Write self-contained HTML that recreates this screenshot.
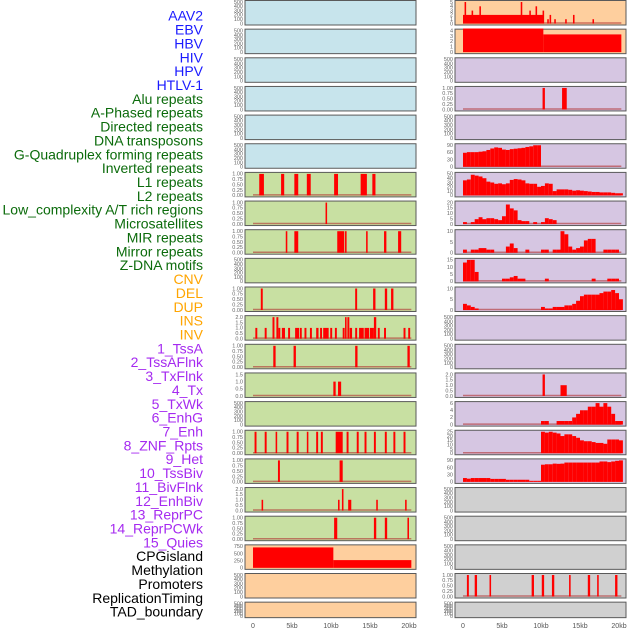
<!DOCTYPE html>
<html><head><meta charset="utf-8"><style>
html,body{margin:0;padding:0;background:#fff;}
svg{display:block;font-family:"Liberation Sans",sans-serif;}
</style></head><body>
<svg id="chart" width="630" height="630" viewBox="0 0 630 630"></svg>
<script>
const labels = ["AAV2","EBV","HBV","HIV","HPV","HTLV-1","Alu repeats","A-Phased repeats","Directed repeats","DNA transposons","G-Quadruplex forming repeats","Inverted repeats","L1 repeats","L2 repeats","Low_complexity A/T rich regions","Microsatellites","MIR repeats","Mirror repeats","Z-DNA motifs","CNV","DEL","DUP","INS","INV","1_TssA","2_TssAFlnk","3_TxFlnk","4_Tx","5_TxWk","6_EnhG","7_Enh","8_ZNF_Rpts","9_Het","10_TssBiv","11_BivFlnk","12_EnhBiv","13_ReprPC","14_ReprPCWk","15_Quies","CPGisland","Methylation","Promoters","ReplicationTiming","TAD_boundary"];
const labelGroups = [0,0,0,0,0,0,1,1,1,1,1,1,1,1,1,1,1,1,1,2,2,2,2,2,3,3,3,3,3,3,3,3,3,3,3,3,3,3,3,4,4,4,4,4];
const groupColors = ["#1a1aff","#0b6b0b","#ffa500","#a52af0","#000000"];
const xTickLabels = ["0","5kb","10kb","15kb","20kb"];
const xTickValues = [0,5,10,15,20];

const leftBg = ["b","b","b","b","b","b","g","g","g","g","g","g","g","g","g","g","g","g","g","o","o","o"];
const leftTicks = [
 ["0","100","200","300","400","500"],["0","100","200","300","400","500"],["0","100","200","300","400","500"],["0","100","200","300","400","500"],["0","100","200","300","400","500"],["0","100","200","300","400","500"],
 ["0.00","0.25","0.50","0.75","1.00"],["0.00","0.25","0.50","0.75","1.00"],["0.00","0.25","0.50","0.75","1.00"],["0","100","200","300","400","500"],["0.00","0.25","0.50","0.75","1.00"],["0.0","0.5","1.0","1.5","2.0"],["0.00","0.25","0.50","0.75","1.00"],["0.0","0.5","1.0","1.5"],["0","100","200","300","400","500"],["0.00","0.25","0.50","0.75","1.00"],["0.00","0.25","0.50","0.75","1.00"],["0.0","0.5","1.0","1.5","2.0"],["0.00","0.25","0.50","0.75","1.00"],["0","250","500","750"],["0","100","200","300","400","500"],["0","100","200","300","400","500"]];
const leftMax = [500,500,500,500,500,500,1,1,1,500,1,2,1,1.5,500,1,1,2,1,1000,500,500];
const leftSegs = [[],[],[],[],[],[],
 [[0.8,1.4,1],[3.6,4.0,1],[5.3,5.8,1],[6.9,7.4,1],[10.4,10.9,1],[13.8,14.6,1],[15.3,15.7,1]],
 [[9.3,9.5,1]],
 [[4.2,4.4,1],[5.3,5.8,1],[10.8,11.7,1],[11.8,12.0,1],[14.5,14.7,1],[16.8,17.1,1],[18.6,19.0,1]],
 [],
 [[1.0,1.25,1],[13.1,13.35,1],[15.4,15.7,1],[16.9,17.2,1],[17.7,18.0,1]],
 [[0.3,0.55,1],[1.5,1.75,1],[2.5,2.75,2],[3.0,3.25,2],[3.25,3.5,1],[3.7,4.1,1],[4.5,4.75,1],[5.4,5.9,1],[6.0,6.25,1],[6.6,6.85,1],[7.3,7.55,1],[8.1,8.4,1],[8.6,8.85,1],[9.0,9.7,1],[9.9,10.15,1],[10.5,10.75,1],[11.5,11.75,1],[11.8,12.0,2],[12.1,12.35,2],[12.4,12.7,1],[13.1,13.35,1],[13.6,14.2,1],[14.3,14.9,1],[15.0,15.5,1],[15.5,15.8,2],[16.0,16.25,1],[16.8,17.05,1],[19.3,19.55,1],[19.9,20.15,1]],
 [[2.6,2.9,1],[5.2,5.5,1],[13.1,13.4,1],[19.8,20.1,1]],
 [[10.3,10.6,1],[10.9,11.3,1]],
 [],
 [[0.2,0.45,1],[1.5,1.75,1],[2.9,3.1,1],[4.3,4.55,1],[5.6,5.85,1],[6.9,7.1,1],[8.1,8.35,1],[8.7,8.95,1],[10.6,11.5,1],[12.0,12.25,1],[13.3,13.55,1],[14.3,14.55,1],[15.5,15.75,1],[16.9,17.15,1],[18.0,18.25,1],[19.3,19.55,1]],
 [[3.2,3.45,1],[11.1,11.5,1]],
 [[1.1,1.3,1],[10.9,11.1,1],[11.4,11.6,2],[12.2,12.6,1],[15.8,16.0,1],[19.5,19.7,1]],
 [[10.4,10.8,1],[15.5,15.8,1],[16.9,17.2,1],[19.8,20.0,1]],
 [[0,10.3,950],[10.3,20.3,360]],
 [],[]];
const leftBase = [0,0,0,0,0,0,1,1,1,0,1,1,1,1,0,1,1,1,1,0,0,0];

const rightBg = ["o","o","p","p","p","p","p","p","p","p","p","p","p","p","p","p","p","y","y","y","y","y"];
const rightTicks = [["0","1","2","3","4","5"],["0","1","2","3","4"],["0","100","200","300","400","500"],["0.00","0.25","0.50","0.75","1.00"],["0","100","200","300","400","500"],["0","30","60","90"],["0","10","20","30","40","50"],["0","5","10","15","20"],["0","5","10"],["0","5","10","15"],["0","5","10"],["0","100","200","300","400","500"],["0","100","200","300","400","500"],["0.0","0.5","1.0","1.5","2.0"],["0","2","4","6"],["0","5","10","15","20","25"],["0","30","60","90"],["0","100","200","300","400","500"],["0","100","200","300","400","500"],["0","100","200","300","400","500"],["0.00","0.25","0.50","0.75","1.00"],["0","100","200","300","400","500"]];
const rightMax = [5,4,500,1,500,100,50,22,14,16,14,500,500,2,6,25,100,500,500,500,1,500];
const hist5 = [65,68,68,68,70,72,78,85,90,88,80,78,82,84,86,88,92,95,100,100];
const hist6 = [35,37,48,46,44,40,32,30,27,28,26,28,36,38,37,35,28,27,27,20,22,28,27,10,14,14,14,13,11,12,11,10,9,8,8,7,7,7,6,5,5];
const hist7 = [2,0,2,5,7,5,6,6,5,4,8,20,16,14,4,3,3,0,2,0,2,6,5,4];
const hist8 = [2,0,2,2,3,3,2,2,0,0,0,4,6,3,0,0,2,0,0,0,2,2,0,2,2,14,12,4,2,3,4,8,9,9,0,0,2,2,2,2];
const hist9 = [14,16,16,7,0,0,0,0,0,0,2,2,3,4,2,2,0,0,0,0,0,2,0,0,0,0,0,0,0,0,0,0,0,2,0,0,0,2,2,2];
const hist10 = [4,3,2,1,0,0,0,0,0,0,0,0,0,0,0,0,0,0,0,0,2,1,1,2,2,2,3,3,4,6,9,10,10,10,10,11,12,12,13,11,7];
const hist14 = [0,0,0,0,0,0,0,0,0,0,0,0,0,0,0,0,0,0,0,0,1,1,0,0,1,1,1,1,2,3,4,4,5,5,6,5,6,5,3,1,1];
const hist15 = [0,0,0,0,0,0,0,0,0,0,0,0,0,0,0,0,0,0,0,0,25,24,25,24,23,20,22,22,20,18,15,14,14,13,12,12,11,16,16,16,15];
const hist16 = [18,15,18,18,18,18,18,14,14,14,14,10,10,10,10,10,10,5,5,5,80,82,82,85,84,85,90,90,90,90,90,90,90,90,90,95,95,92,95,98,100];
const rightHist = {5:hist5,6:hist6,7:hist7,8:hist8,9:hist9,10:hist10,14:hist14,15:hist15,16:hist16};
const rightSegs = {
 0:[[0,10.3,2],[0.2,0.4,5],[1.1,1.3,3],[2.1,2.3,4],[7.4,7.6,5],[8.5,8.7,3],[9.3,9.5,4],[10.2,10.4,3],[10.8,11.0,1],[11.1,11.3,2],[11.7,11.9,1],[13.1,13.3,1],[14.1,14.3,2],[16.6,16.8,1]],
 1:[[0,10.3,4.4],[10.3,20.3,3.3]],
 3:[[10.2,10.5,1],[12.7,13.3,1]],
 13:[[10.2,10.5,2],[12.5,13.3,1]],
 20:[[0.5,0.75,1],[1.5,1.8,1],[3.4,3.6,1],[8.8,9.1,1],[10.1,10.4,1],[11.4,11.7,1],[13.6,13.8,1],[16.0,16.3,1],[17.2,17.4,1],[19.5,19.8,1]]};
const rightBase = [1,0,0,1,0,1,1,1,1,1,1,0,0,1,1,1,0,0,0,0,1,0];

const bgColors = {b:"#c7e4ec",g:"#c8e0a2",o:"#fecf9e",p:"#d6c6e2",y:"#d0d0d0"};
const NS = "http://www.w3.org/2000/svg";
const svg = document.getElementById("chart");
function mk(tag, attrs, parent){const e=document.createElementNS(NS,tag);for(const k in attrs)e.setAttribute(k,attrs[k]);(parent||svg).appendChild(e);return e;}

function rowTop(i){return i*28.65+0.5;}
function rowH(i){return i===21?15.5:24.5;}
function xScale(col,kb){return (col===0?253:463)+kb*7.8;}
function yScale(i,v,max){const t=rowTop(i)+1.5,b=rowTop(i)+rowH(i)-1.5;return b-(v/max)*(b-t);}

labels.forEach((t,i)=>{
  const e=mk("text",{x:203,y:17+i*13.86,"text-anchor":"end","dominant-baseline":"middle","font-size":"14",fill:groupColors[labelGroups[i]]});
  
  
  e.textContent=t;
});

function drawPanel(col,i,bg,ticks,max,segs,base){
  const x0=col===0?245:455, w=171, top=rowTop(i), h=rowH(i);
  const g=mk("g",{});
  
  
  const r=mk("rect",{x:x0,y:top,width:w,height:h,fill:bgColors[bg],stroke:"#5a5a5a","stroke-width":"1"},g);
  
  
  const tmax=parseFloat(ticks[ticks.length-1]);
  ticks.forEach(tk=>{
    const v=parseFloat(tk);
    const e=mk("text",{x:x0-2,y:yScale(i,v,tmax)+1.8,"text-anchor":"end","font-size":"5.5",fill:"#666"},g);
    
    
    e.textContent=tk;
  });
  if(base){
    const l=mk("line",{x1:xScale(col,0),x2:xScale(col,20.3),y1:yScale(i,0,max)-0.5,y2:yScale(i,0,max)-0.5,stroke:"#b03030","stroke-width":"1.5","stroke-opacity":"0.6"},g);
    
    
  }
  segs.forEach(s=>{
    const xa=xScale(col,s[0]),xb=xScale(col,s[1]),ya=yScale(i,s[2],max),yb=yScale(i,0,max);
    const b=mk("rect",{x:xa,y:ya,width:Math.max(xb-xa,1),height:Math.max(yb-ya,0),fill:"#ff0000"},g);
    
    
  });
}
for(let i=0;i<22;i++) drawPanel(0,i,leftBg[i],leftTicks[i],leftMax[i],leftSegs[i],leftBase[i]);
for(let i=0;i<22;i++){
  let segs=rightSegs[i]||[];
  if(rightHist[i]) segs=rightHist[i].map((v,k)=>[k*0.5,k*0.5+0.5,v]);
  drawPanel(1,i,rightBg[i],rightTicks[i],rightMax[i],segs,rightBase[i]);
}
[0,1].forEach(col=>{
  xTickValues.forEach((v,k)=>{
    const e=mk("text",{x:xScale(col,v),y:628,"text-anchor":"middle","font-size":"7",fill:"#555"});
    
    
    e.textContent=xTickLabels[k];
  });
});
</script>
</body></html>
